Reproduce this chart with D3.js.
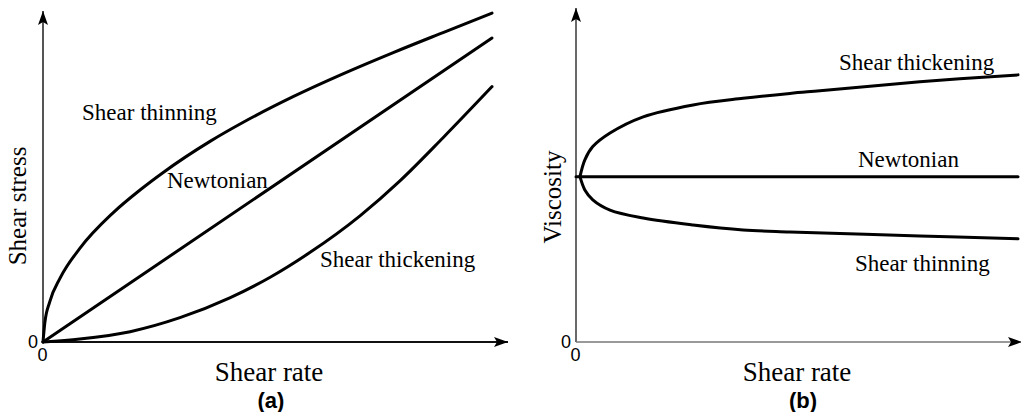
<!DOCTYPE html>
<html>
<head>
<meta charset="utf-8">
<script src="https://cdn.jsdelivr.net/npm/d3@7"></script>
<style>
  html, body { margin: 0; padding: 0; background: #fff; }
  svg { display: block; }
</style>
</head>
<body>
<svg id="chart" width="1021" height="412"></svg>
<script>
// ---- (a) flow curves: shear stress vs shear rate ----
const flowNewtonian = [[0, 0], [10, 10]];
const flowThinning = [
  [0, 0], [0.04, 0.62], [0.15, 1.32], [0.38, 2.1], [0.82, 3.08],
  [1.56, 4.25], [2.16, 5.0], [2.67, 5.57], [3.72, 6.6], [4.45, 7.22],
  [5.57, 8.07], [6.68, 8.82], [7.80, 9.52], [8.91, 10.18], [10, 10.82]
];
const flowThickening = [
  [0, 0], [0.82, 0.1], [1.94, 0.34], [3.05, 0.8], [4.16, 1.45],
  [5.06, 2.13], [5.95, 2.95], [7.06, 4.15], [7.95, 5.3], [8.91, 6.72], [10, 8.40]
];

// ---- (b) viscosity curves: viscosity vs shear rate ----
const viscNewtonian = [[0, 5], [10, 5]];
const viscThickening = [
  [0.09, 5.0], [0.20, 5.51], [0.38, 5.91], [0.77, 6.32], [1.52, 6.81],
  [2.65, 7.17], [3.78, 7.37], [4.84, 7.52], [5.52, 7.60], [7.78, 7.87], [10, 8.08]
];
const viscThinning = [
  [0.09, 5.0], [0.20, 4.60], [0.38, 4.30], [0.77, 3.99], [1.52, 3.75],
  [2.65, 3.54], [3.78, 3.39], [4.84, 3.33], [7.78, 3.21], [10, 3.12]
];

const tickValues = [0];
const axisTitles = { a: ["Shear rate", "Shear stress"], b: ["Shear rate", "Viscosity"] };
// [text, left edge (shear rate units), baseline (y units)]
const curveLabels = {
  a: [["Shear thinning", 0.87, 7.3], ["Newtonian", 2.76, 5.07], ["Shear thickening", 6.17, 2.47]],
  b: [["Shear thickening", 5.95, 8.23], ["Newtonian", 6.38, 5.29], ["Shear thinning", 6.31, 2.15]]
};
const panelTags = ["(a)", "(b)"];

const svg = d3.select("#chart");
const serif = "'Liberation Serif', 'Times New Roman', serif";
const sans = "'Liberation Sans', Arial, sans-serif";

// arrowhead marker
const defs = svg.append("defs");
defs.append("marker")
  .attr("id", "arrow")
  .attr("viewBox", "0 0 14 10")
  .attr("refX", 14).attr("refY", 5)
  .attr("markerUnits", "userSpaceOnUse")
  .attr("markerWidth", 14).attr("markerHeight", 10)
  .attr("orient", "auto")
  .append("path")
  .attr("d", "M0,0 L14,5 L0,10 L3,5 Z")
  .attr("fill", "#000");

function panel(cfg) {
  const x = d3.scaleLinear().domain([0, 10]).range(cfg.xRange);
  const y = d3.scaleLinear().domain([0, 10]).range(cfg.yRange);
  const g = svg.append("g");

  // axes with arrow tips
  g.append("line")
    .attr("x1", x(0)).attr("y1", y(0))
    .attr("x2", x(0)).attr("y2", cfg.yTip)
    .attr("stroke", cfg.axisColor).attr("stroke-width", cfg.axisWidth)
    .attr("marker-end", "url(#arrow)");
  g.append("line")
    .attr("x1", x(0)).attr("y1", y(0))
    .attr("x2", cfg.xTip).attr("y2", y(0))
    .attr("stroke", cfg.xAxisColor).attr("stroke-width", cfg.axisWidth)
    .attr("marker-end", "url(#arrow)");

  // zero tick labels through d3 axes
  const ax = g.append("g").attr("transform", `translate(0,${y(0)})`)
    .call(d3.axisBottom(x).tickValues(tickValues).tickSize(0).tickPadding(6));
  const ay = g.append("g").attr("transform", `translate(${x(0)},0)`)
    .call(d3.axisLeft(y).tickValues(tickValues).tickSize(0).tickPadding(6));
  [ax, ay].forEach(a => {
    a.select(".domain").remove();
    a.selectAll("text").attr("font-family", sans).attr("font-size", 18).attr("fill", "#000");
  });
  ax.selectAll("text").attr("dx", -1).attr("dy", "0.72em");
  ay.selectAll("text").attr("dx", 1).attr("dy", "0.32em");

  // curves
  const line = d3.line().x(d => x(d[0])).y(d => y(d[1])).curve(cfg.curve);
  cfg.series.forEach(s => {
    g.append("path").datum(s)
      .attr("d", line)
      .attr("fill", "none")
      .attr("stroke", "#000")
      .attr("stroke-width", 3)
      .attr("stroke-linecap", "round");
  });

  // curve labels
  cfg.labels.forEach(([t, lx, ly]) => {
    g.append("text")
      .attr("x", x(lx)).attr("y", y(ly))
      .attr("text-anchor", "start")
      .attr("font-family", serif).attr("font-size", 23)
      .attr("fill", "#000")
      .text(t);
  });

  // axis titles
  g.append("text")
    .attr("x", cfg.xTitle[0]).attr("y", cfg.xTitle[1])
    .attr("text-anchor", "middle")
    .attr("font-family", serif).attr("font-size", 27)
    .text(cfg.titles[0]);
  g.append("text")
    .attr("transform", `translate(${cfg.yTitle[0]},${cfg.yTitle[1]}) rotate(-90)`)
    .attr("text-anchor", "middle")
    .attr("font-family", serif).attr("font-size", 25)
    .text(cfg.titles[1]);

  // panel tag
  g.append("text")
    .attr("x", cfg.tag[0]).attr("y", cfg.tag[1])
    .attr("text-anchor", "middle")
    .attr("font-family", sans).attr("font-weight", "bold").attr("font-size", 22)
    .text(cfg.tagText);
}

panel({
  xRange: [43, 492], yRange: [342, 38], yTip: 11, xTip: 508,
  axisColor: "#555", xAxisColor: "#111", axisWidth: 2,
  curve: d3.curveMonotoneX,
  series: [flowThinning, flowNewtonian, flowThickening],
  labels: curveLabels.a, titles: axisTitles.a,
  xTitle: [269, 381], yTitle: [26, 206], tag: [271, 408], tagText: panelTags[0]
});

panel({
  xRange: [576, 1018], yRange: [342, 11.4], yTip: 8, xTip: 1022,
  axisColor: "#444", xAxisColor: "#777", axisWidth: 1.6,
  curve: d3.curveCatmullRom.alpha(0.5),
  series: [viscThickening, viscNewtonian, viscThinning],
  labels: curveLabels.b, titles: axisTitles.b,
  xTitle: [797, 381], yTitle: [561, 197], tag: [803, 408], tagText: panelTags[1]
});
</script>
</body>
</html>
